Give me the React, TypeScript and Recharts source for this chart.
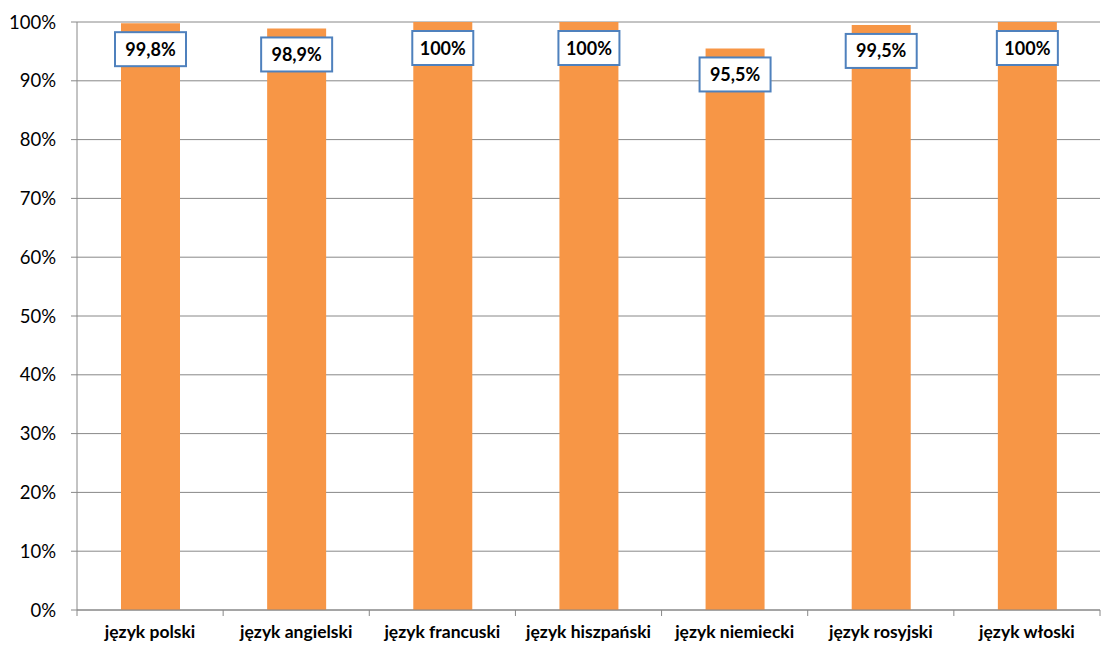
import { Bar, BarChart, CartesianGrid, LabelList, XAxis, YAxis } from "recharts";

const languages = [
  "język polski",
  "język angielski",
  "język francuski",
  "język hiszpański",
  "język niemiecki",
  "język rosyjski",
  "język włoski",
];
const shares = [0.998, 0.989, 1.0, 1.0, 0.955, 0.995, 1.0];
const valueLabels = ["99,8%", "98,9%", "100%", "100%", "95,5%", "99,5%", "100%"];
const yTicks = [0, 0.1, 0.2, 0.3, 0.4, 0.5, 0.6, 0.7, 0.8, 0.9, 1.0];

const data = languages.map((name, i) => ({ name, value: shares[i], label: valueLabels[i] }));

const W = 1105;
const H = 646;
const LEFT = 77;
const RIGHT = 5;
const BAND = (W - LEFT - RIGHT) / languages.length;
const FONT = "Lato, 'Open Sans', sans-serif";

function CategoryTick(props: any) {
  const { x, y, payload, index } = props;
  const half = BAND / 2;
  return (
    <g>
      <line x1={x - half} x2={x - half} y1={y - 8} y2={y - 2} stroke="#888" />
      {index === languages.length - 1 && (
        <line x1={x + half} x2={x + half} y1={y - 8} y2={y - 2} stroke="#888" />
      )}
      <text
        x={x}
        y={y + 20}
        textAnchor="middle"
        fontFamily={FONT}
        fontWeight={700}
        fontSize={17.5}
        fill="#000"
      >
        {payload.value}
      </text>
    </g>
  );
}

function BoxLabel(props: any) {
  const { x, y, width, value } = props;
  const w = String(value).length > 4 ? 71 : 61;
  const h = 34;
  const cx = x + width / 2;
  const top = y + 9;
  return (
    <g>
      <rect x={cx - w / 2} y={top} width={w} height={h} fill="#fff" stroke="#4F81BD" strokeWidth={2} />
      <text
        x={cx}
        y={top + h / 2 + 6.5}
        textAnchor="middle"
        fontFamily={FONT}
        fontWeight={700}
        fontSize={18}
        fill="#000"
      >
        {value}
      </text>
    </g>
  );
}

export default function App() {
  return (
    <div style={{ position: "absolute", left: 0, top: 0, background: "#fff" }}>
      <BarChart
        width={W}
        height={H}
        data={data}
        margin={{ top: 22, right: RIGHT, left: 0, bottom: 0 }}
      >
        <CartesianGrid stroke="#888" vertical={false} />
        <XAxis
          dataKey="name"
          height={36}
          interval={0}
          stroke="#888"
          tickLine={false}
          tick={<CategoryTick />}
        />
        <YAxis
          width={LEFT}
          domain={[0, 1]}
          ticks={yTicks}
          interval={0}
          stroke="#888"
          tickSize={6}
          tickMargin={15}
          tickFormatter={(v: number) => `${Math.round(v * 100)}%`}
          tick={{ fill: "#000", fontSize: 18.5, fontFamily: FONT }}
        />
        <Bar dataKey="value" fill="#F79646" barSize={59} isAnimationActive={false}>
          <LabelList dataKey="label" content={<BoxLabel />} />
        </Bar>
      </BarChart>
    </div>
  );
}
